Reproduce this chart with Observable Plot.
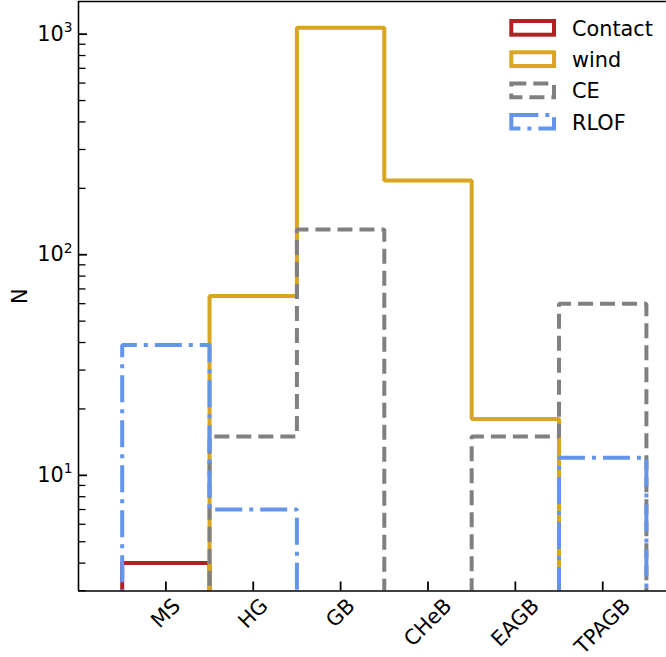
<!DOCTYPE html>
<html><head><meta charset="utf-8">
<script src="https://cdn.jsdelivr.net/npm/d3@7"></script>
<script src="https://cdn.jsdelivr.net/npm/@observablehq/plot@0.6"></script>
<style>html,body{margin:0;padding:0;background:#fff;overflow:hidden} svg{display:block}</style>
</head><body><div id="chart"></div>
<script>
const categories = ["MS", "HG", "GB", "CHeB", "EAGB", "TPAGB"];
const contact = [4, 0, 0, 0, 0, 0];
const wind = [0, 65, 1070, 217, 18, 0];
const ce = [0, 15, 130, 0, 15, 60];
const rlof = [39, 7, 0, 0, 0, 12];
const seriesNames = ["Contact", "wind", "CE", "RLOF"];
const seriesColors = ["#b22222", "#daa520", "#808080", "#6495ed"];
const seriesDash = [null, null, "15,7", "27,7,4,7"];
const yMajor = [10, 100, 1000];
const yMajorBase = ["10", "10", "10"];
const yMajorExp = ["1", "2", "3"];
const yMinor = [3,4,5,6,7,8,9,20,30,40,50,60,70,80,90,200,300,400,500,600,700,800,900];
const yDomain = [2.99, 1406];
const xDomain = [-1, 5.73];

const W = 666, H = 657, ML = 78, MR = 0, MT = 1, MB = 66.5;
const FS = 20.8;
const frameW = W - ML - MR, frameH = H - MT - MB;
const FLOOR = 0.5;

function steps(vals) {
  const pts = [{x: -0.5, y: FLOOR}];
  vals.forEach((v, i) => pts.push({x: i - 0.5, y: v > 0 ? v : FLOOR}));
  pts.push({x: vals.length - 0.5, y: FLOOR});
  return pts;
}

const series = [contact, wind, ce, rlof];
const lineMarks = series.map((vals, k) => Plot.line(steps(vals), {
  x: "x", y: "y", curve: "step-after",
  stroke: seriesColors[k], strokeWidth: 4,
  strokeDasharray: seriesDash[k] || undefined,
  strokeLinejoin: "miter", strokeLinecap: "butt", clip: true
}));

const ctx = document.createElement("canvas").getContext("2d");
ctx.font = `${FS}px "DejaVu Sans"`;
const xLabelMarks = categories.map((c, i) => {
  const w = ctx.measureText(c).width;
  return Plot.text([c], {
    x: () => i, text: d => d, frameAnchor: "bottom",
    dy: 6 + 0.7071 * (w + 0.73 * FS) / 2,
    rotate: -45, textAnchor: "middle", lineAnchor: "middle",
    fontSize: FS, fill: "black"
  });
});

const svg = Plot.plot({
  width: W, height: H,
  marginLeft: ML, marginRight: MR, marginTop: MT, marginBottom: MB,
  style: {fontFamily: "'DejaVu Sans', sans-serif", fontSize: FS + "px", background: "white", overflow: "visible"},
  x: {domain: xDomain, axis: null},
  y: {type: "log", domain: yDomain, axis: null},
  marks: [
    ...lineMarks,
    // spines
    Plot.ruleX([xDomain[0]], {stroke: "black", strokeWidth: 1.6}),
    Plot.ruleY([yDomain[0]], {stroke: "black", strokeWidth: 1.6}),
    Plot.ruleY([yDomain[1]], {stroke: "black", strokeWidth: 1.6}),
    // inward ticks
    Plot.ruleY(yMajor, {y: d => d, insetRight: frameW - 9, stroke: "black", strokeWidth: 1.8}),
    Plot.ruleY(yMinor, {y: d => d, insetRight: frameW - 7.5, stroke: "black", strokeWidth: 1.3}),
    Plot.ruleX(categories.map((c, i) => i), {x: d => d, insetTop: frameH - 9, stroke: "black", strokeWidth: 1.8}),
    // y tick labels (exponent added as superscript below)
    Plot.text(yMajor, {y: d => d, text: (d, i) => yMajorBase[i] + "^" + yMajorExp[i], frameAnchor: "left", dx: -6, textAnchor: "end", lineAnchor: "middle", fontSize: FS, fill: "black"}),
    // y label
    Plot.text(["N"], {text: d => d, frameAnchor: "left", dx: -58, rotate: -90, textAnchor: "middle", lineAnchor: "middle", fontSize: FS, fill: "black"}),
    ...xLabelMarks
  ]
});

// convert "10^k" labels into real superscripts
d3.select(svg).selectAll("text").each(function() {
  const t = this.textContent;
  const m = /^(\d+)\^(\d+)$/.exec(t);
  if (!m) return;
  const sel = d3.select(this);
  sel.text(null);
  sel.append("tspan").text(m[1]);
  sel.append("tspan").attr("font-size", 13.8).attr("dy", -8.6).text(m[2]);
});

const g = d3.select(svg).append("g")
  .attr("font-family", "'DejaVu Sans', sans-serif")
  .attr("font-size", FS)
  .attr("text-anchor", "start");
seriesNames.forEach((n, k) => {
  const y0 = 21 + k * 31.3;
  const r = g.append("rect").attr("x", 511.3).attr("y", y0).attr("width", 42.7).attr("height", 13.7)
    .attr("fill", "none").attr("stroke", seriesColors[k]).attr("stroke-width", 4)
    .attr("stroke-linejoin", "miter");
  if (seriesDash[k]) r.attr("stroke-dasharray", seriesDash[k]);
  g.append("text").attr("x", 572).attr("y", y0 + 14.7).attr("text-anchor", "start").attr("fill", "black").text(n);
});

document.getElementById("chart").appendChild(svg);
</script>
</body></html>
